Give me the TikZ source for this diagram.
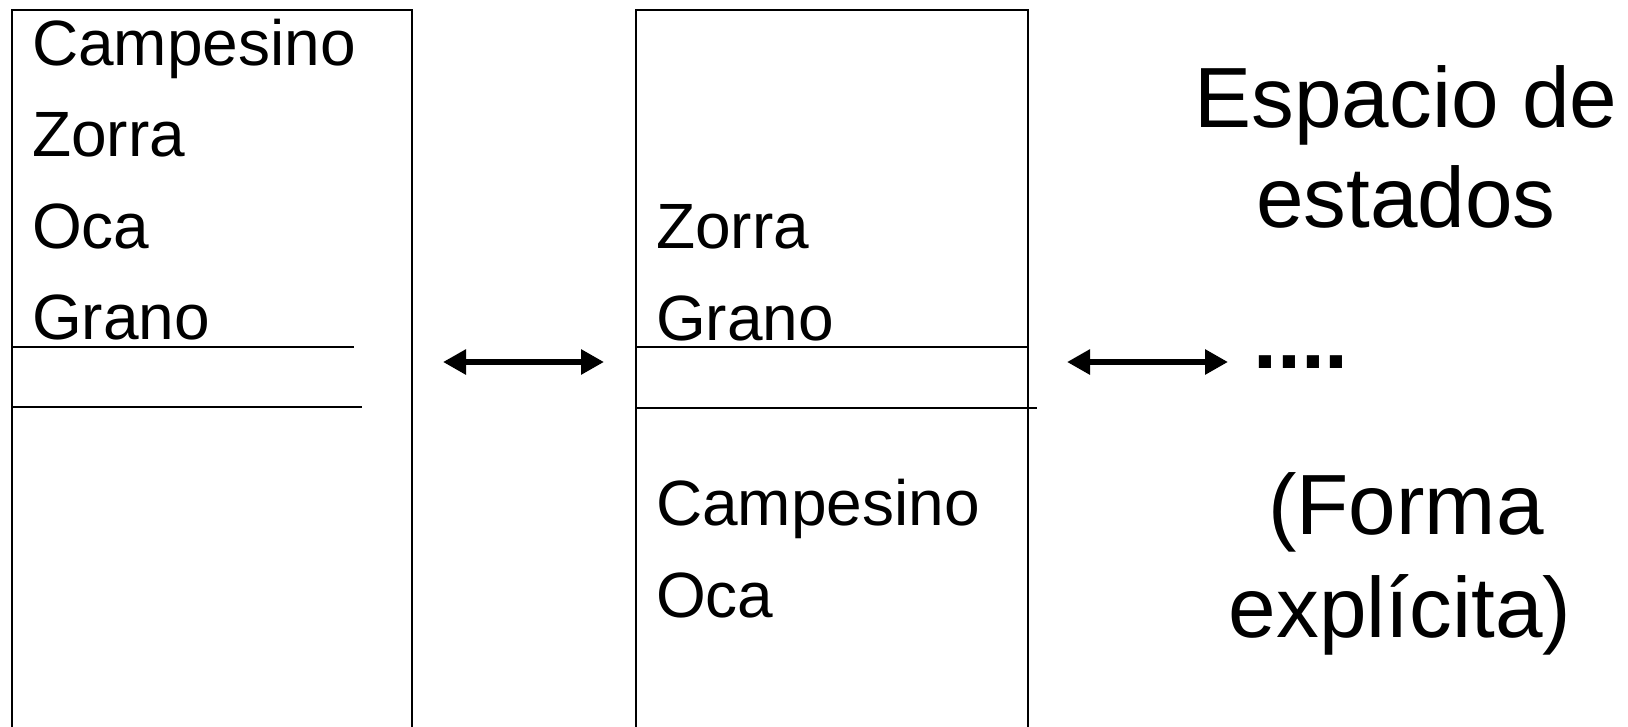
\documentclass[tikz,border=0pt]{standalone}
\usepackage{fontspec}
\setmainfont{Liberation Sans}
\usetikzlibrary{arrows.meta}
\begin{document}
\begin{tikzpicture}[x=1pt,y=-1pt,
  box/.style={draw=black,line width=1.2pt},
  sep/.style={draw=black,line width=1.2pt},
  item/.style={anchor=base west,inner sep=0pt,font=\fontsize{64}{64}\selectfont},
  big/.style={anchor=base,inner sep=0pt,font=\fontsize{85.5}{86}\selectfont},
  dbl/.style={line width=6.5pt,{Triangle[length=23pt,width=24pt]}-{Triangle[length=23pt,width=24pt]}}]
\useasboundingbox (0,0) rectangle (1628,726);
% boxes
\draw[box] (12,740) |- (412,10) -- (412,740);
\draw[box] (636,740) |- (1028,10) -- (1028,740);
% separator lines
\draw[sep] (12,347) -- (354,347);
\draw[sep] (12,407) -- (362,407);
\draw[sep] (636,347) -- (1028,347);
\draw[sep] (636,408) -- (1037,408);
% left box items
\node[item] (l1) at (32,65) {Campesino};
\node[item] (l2) at (32,156) {Zorra};
\node[item] (l3) at (32,248) {Oca};
\node[item] (l4) at (32,339) {Grano};
% middle box items
\node[item] (m1) at (656,248) {Zorra};
\node[item] (m2) at (656,340) {Grano};
\node[item] (m3) at (656,525) {Campesino};
\node[item] (m4) at (656,617) {Oca};
% arrows
\coordinate (a1s) at (443,362);
\coordinate (a1e) at (604,362);
\coordinate (a2s) at (1067,362);
\coordinate (a2e) at (1228,362);
\draw[dbl] (a1s) -- (a1e);
\draw[dbl] (a2s) -- (a2e);
\node[anchor=base west,inner sep=0pt,font=\fontsize{86}{86}\selectfont\bfseries] (dots) at (1253,368) {....};
% right texts
\node[big] (t1) at (1406,127) {Espacio de};
\node[big] (t2) at (1406,227) {estados};
\node[big] (t3) at (1406,534) {(Forma};
\node[big] (t4) at (1400,637) {explícita)};
\end{tikzpicture}
\end{document}
